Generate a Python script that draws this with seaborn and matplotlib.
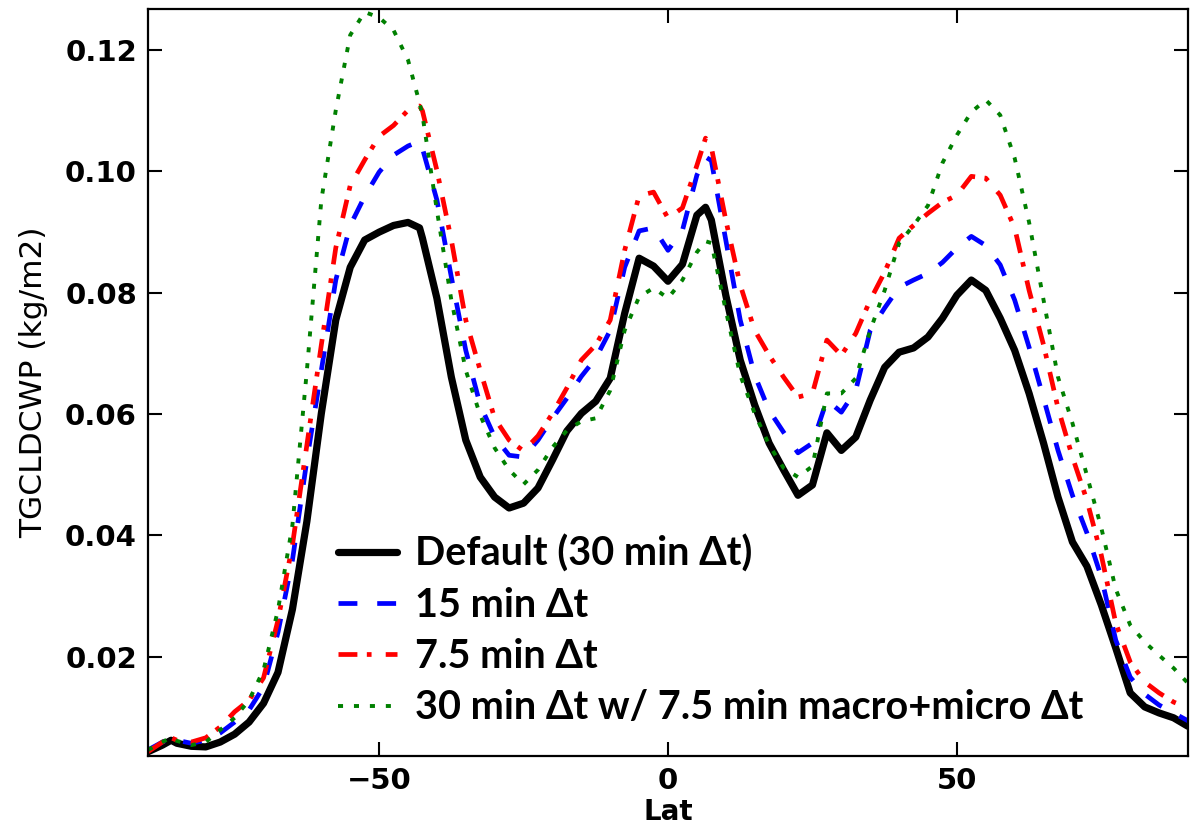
import numpy as np
import pandas as pd
import matplotlib
matplotlib.use("Agg")
import matplotlib.pyplot as plt
import seaborn as sns

lat = [-90, -87.5, -86, -85, -82.5, -80, -77.5, -75, -72.5, -70, -67.5, -65, -62.5, -60,
       -57.5, -55, -52.5, -50, -47.5, -45, -43, -42.5, -40, -37.5, -35, -32.5, -30,
       -27.5, -25, -22.5, -20, -17.5, -15, -12.5, -10, -7.5, -5, -2.5, 0, 2.5, 5,
       6.5, 7.5, 10, 12.5, 15, 17.5, 20, 22.5, 25, 27.5, 30, 32.5, 35, 37.5, 40,
       42.5, 45, 47.5, 50, 52.5, 55, 57.5, 60, 62.5, 65, 67.5, 70, 72.5, 75, 77.5,
       80, 82.5, 85, 87.5, 90]

default_30 = [0.0043, 0.0054, 0.0062, 0.0057, 0.0052, 0.0051, 0.0059, 0.0072, 0.0092, 0.0123,
              0.0174, 0.0278, 0.0423, 0.0601, 0.0755, 0.0842, 0.0887, 0.0900, 0.0911, 0.0916,
              0.0907, 0.0890, 0.0791, 0.0661, 0.0557, 0.0496, 0.0463, 0.0445, 0.0453, 0.0478,
              0.0524, 0.0572, 0.0601, 0.0621, 0.0659, 0.0766, 0.0857, 0.0844, 0.0819, 0.0847,
              0.0928, 0.0941, 0.0920, 0.0796, 0.0689, 0.0615, 0.0552, 0.0508, 0.0466, 0.0483,
              0.0569, 0.0540, 0.0562, 0.0623, 0.0677, 0.0702, 0.0709, 0.0727, 0.0758, 0.0796,
              0.0821, 0.0804, 0.0758, 0.0705, 0.0634, 0.0552, 0.0463, 0.0389, 0.0349, 0.0285,
              0.0214, 0.0140, 0.0117, 0.0107, 0.0099, 0.0085]

dt_15 = [0.0046, 0.0059, 0.0066, 0.0062, 0.0057, 0.0062, 0.0074, 0.0092, 0.0112, 0.0150,
         0.0240, 0.0359, 0.0524, 0.0672, 0.0821, 0.0911, 0.0959, 0.0999, 0.1027, 0.1042,
         0.1050, 0.1038, 0.0953, 0.0826, 0.0705, 0.0615, 0.0562, 0.0532, 0.0529, 0.0557,
         0.0593, 0.0626, 0.0662, 0.0692, 0.0738, 0.0842, 0.0902, 0.0907, 0.0870, 0.0903,
         0.0994, 0.1024, 0.1018, 0.0887, 0.0755, 0.0664, 0.0606, 0.0570, 0.0536, 0.0552,
         0.0623, 0.0603, 0.0639, 0.0738, 0.0775, 0.0809, 0.0821, 0.0832, 0.0850, 0.0874,
         0.0893, 0.0878, 0.0846, 0.0788, 0.0710, 0.0626, 0.0540, 0.0466, 0.0404, 0.0331,
         0.0227, 0.0166, 0.0138, 0.0120, 0.0107, 0.0094]

dt_7p5 = [0.0043, 0.0059, 0.0066, 0.0062, 0.0059, 0.0066, 0.0084, 0.0109, 0.0128, 0.0165,
          0.0260, 0.0384, 0.0549, 0.0714, 0.0874, 0.0977, 0.1019, 0.1058, 0.1076, 0.1101,
          0.1108, 0.1100, 0.1002, 0.0887, 0.0755, 0.0672, 0.0593, 0.0557, 0.0539, 0.0564,
          0.0601, 0.0643, 0.0689, 0.0714, 0.0755, 0.0870, 0.0960, 0.0966, 0.0923, 0.0940,
          0.1010, 0.1055, 0.1040, 0.0920, 0.0813, 0.0738, 0.0697, 0.0661, 0.0628, 0.0634,
          0.0722, 0.0697, 0.0733, 0.0788, 0.0834, 0.0890, 0.0911, 0.0931, 0.0949, 0.0961,
          0.0992, 0.0989, 0.0961, 0.0907, 0.0804, 0.0714, 0.0610, 0.0529, 0.0458, 0.0367,
          0.0255, 0.0191, 0.0158, 0.0140, 0.0125, 0.0115]

dt_30_macmic = [0.0046, 0.0059, 0.0067, 0.0061, 0.0054, 0.0059, 0.0079, 0.0099, 0.0128, 0.0178,
                0.0277, 0.0417, 0.0672, 0.0953, 0.1101, 0.1225, 0.1263, 0.1254, 0.1233, 0.1184,
                0.1113, 0.1093, 0.0936, 0.0788, 0.0672, 0.0598, 0.0544, 0.0508, 0.0484, 0.0508,
                0.0545, 0.0573, 0.0588, 0.0593, 0.0639, 0.0738, 0.0793, 0.0808, 0.0791, 0.0821,
                0.0867, 0.0885, 0.0882, 0.0771, 0.0664, 0.0601, 0.0549, 0.0511, 0.0496, 0.0514,
                0.0634, 0.0634, 0.0659, 0.0738, 0.0804, 0.0882, 0.0911, 0.0944, 0.1014, 0.1060,
                0.1098, 0.1118, 0.1093, 0.1022, 0.0916, 0.0788, 0.0661, 0.0585, 0.0499, 0.0412,
                0.0311, 0.0252, 0.0224, 0.0202, 0.0181, 0.0156]

series_labels = ["Default (30 min \u0394t)", "15 min \u0394t", "7.5 min \u0394t",
                 "30 min \u0394t w/ 7.5 min macro+micro \u0394t"]
x_ticks = [-50, 0, 50]
y_ticks = [0.02, 0.04, 0.06, 0.08, 0.10, 0.12]

sns.set_style("ticks")
plt.rcParams["font.family"] = ["sans-serif"]
plt.rcParams["font.sans-serif"] = ["DejaVu Sans"]
for key in ["text.color", "axes.labelcolor", "xtick.color", "ytick.color", "axes.edgecolor"]:
    plt.rcParams[key] = "black"

fig = plt.figure(figsize=(11.96, 8.25), dpi=100)
ax = fig.add_axes([148 / 1196, 1 - 756 / 825, 1040 / 1196, 747 / 825])

styles = [
    dict(color="black", lw=5.2, ls="-"),
    dict(color="blue", lw=3.4, ls=(0, (4.0, 4.2))),
    dict(color="red", lw=3.4, ls=(0, (4.0, 2.0, 1.0, 3.0))),
    dict(color="green", lw=2.8, ls=(0, (1.3, 2.8))),
]
data_list = [default_30, dt_15, dt_7p5, dt_30_macmic]
for vals, lab, st in zip(data_list, series_labels, styles):
    df = pd.DataFrame({"Lat": lat, "val": vals})
    sns.lineplot(data=df, x="Lat", y="val", ax=ax, color=st["color"], linewidth=st["lw"],
                 label=lab, legend=False)
    ax.lines[-1].set_linestyle(st["ls"])

tick_font = dict(family="DejaVu Sans", weight="bold", size=21)
ax.set_xlim(-90, 90)
ax.set_ylim(0.0036, 0.1268)
ax.set_xticks(x_ticks)
ax.set_xticklabels(["\u221250", "0", "50"], fontdict=tick_font)
ax.set_yticks(y_ticks)
ax.set_yticklabels([f"{v:.2f}" for v in y_ticks], fontdict=tick_font)
ax.tick_params(direction="in", length=10, width=1.5, top=True, right=True, pad=8,
               colors="black")
for sp in ax.spines.values():
    sp.set_linewidth(1.6)
    sp.set_color("black")
    sp.set_visible(True)

ax.set_xlabel("Lat", fontdict=dict(family="DejaVu Sans", weight="bold", size=20), labelpad=2)
ax.set_ylabel("TGCLDCWP (kg/m2)", fontdict=dict(family="DejaVu Sans", size=22.5), labelpad=12)

handles, labels = ax.get_legend_handles_labels()
leg = ax.legend(handles, labels, loc="upper left", bbox_to_anchor=(0.148, 0.344),
                frameon=False, handlelength=1.5, handletextpad=0.45, labelspacing=0.36,
                prop=dict(family=["Lato", "DejaVu Sans"], weight="bold", size=28.5))

fig.savefig("out.png", dpi=100)
